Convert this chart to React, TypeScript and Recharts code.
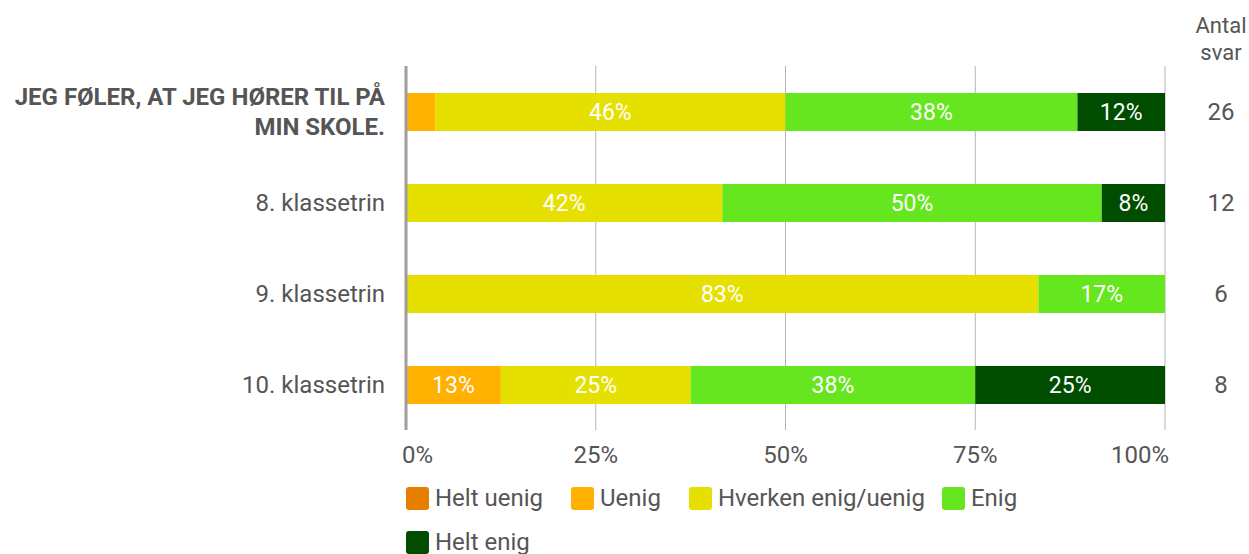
import { BarChart, Bar, XAxis, YAxis, CartesianGrid, Legend, LabelList } from 'recharts'

const categories = [
  'JEG FØLER, AT JEG HØRER TIL PÅ MIN SKOLE.',
  '8. klassetrin',
  '9. klassetrin',
  '10. klassetrin',
]
const headingLines = ['JEG FØLER, AT JEG HØRER TIL PÅ', 'MIN SKOLE.']
const heltUenig = [0, 0, 0, 0]
const uenig = [3.85, 0, 0, 12.5]
const hverken = [46.15, 41.67, 83.33, 25]
const enig = [38.46, 50, 16.67, 37.5]
const heltEnig = [11.54, 8.33, 0, 25]
const antalSvar = [26, 12, 6, 8]
const xTicks = [0, 25, 50, 75, 100]

const series = [
  { key: 'heltUenig', name: 'Helt uenig', color: '#e67e00', gap: 28 },
  { key: 'uenig', name: 'Uenig', color: '#ffb000', gap: 28 },
  { key: 'hverken', name: 'Hverken enig/uenig', color: '#e6e000', gap: 17 },
  { key: 'enig', name: 'Enig', color: '#66e61e', gap: 28 },
  { key: 'heltEnig', name: 'Helt enig', color: '#004d00', gap: 28 },
]

const data = categories.map((name, i) => ({
  name,
  heltUenig: heltUenig[i],
  uenig: uenig[i],
  hverken: hverken[i],
  enig: enig[i],
  heltEnig: heltEnig[i],
  antal: antalSvar[i],
}))

const FONT = 'Roboto, sans-serif'
const TEXT = '#555555'

function CategoryTick({ x, y, payload, index }: any) {
  if (index === 0) {
    return (
      <text x={x - 13} y={y} textAnchor="end" fill={TEXT} fontFamily={FONT} fontSize={24} fontWeight={700}>
        {headingLines.map((line, i) => (
          <tspan key={line} x={x - 13} dy={i === 0 ? -7 : 30}>
            {line}
          </tspan>
        ))}
      </text>
    )
  }
  return (
    <text x={x - 13} y={y} dy={8} textAnchor="end" fill={TEXT} fontFamily={FONT} fontSize={24}>
      {payload.value}
    </text>
  )
}

function CountTick({ x, y, index }: any) {
  return (
    <text x={x + 48} y={y} dy={8} textAnchor="middle" fill={TEXT} fontFamily={FONT} fontSize={24}>
      {antalSvar[index]}
    </text>
  )
}

function PercentTick({ x, y, payload, index }: any) {
  const anchor = index === 0 ? 'start' : index === xTicks.length - 1 ? 'end' : 'middle'
  const dx = index === 0 ? -4 : index === xTicks.length - 1 ? 4 : 0
  return (
    <text x={x + dx} y={y} dy={25} textAnchor={anchor} fill={TEXT} fontFamily={FONT} fontSize={24}>
      {payload.value}%
    </text>
  )
}

function BarLabel({ x, y, width, height, value }: any) {
  if (!value || value < 5) return null
  return (
    <text
      x={x + width / 2}
      y={y + height / 2}
      dy={8}
      textAnchor="middle"
      fill="#ffffff"
      fontFamily={FONT}
      fontSize={23}
    >
      {Math.round(value)}%
    </text>
  )
}

function LegendContent() {
  return (
    <div style={{ display: 'flex', flexWrap: 'wrap', fontFamily: FONT, fontSize: 24, color: TEXT }}>
      {series.map((s) => (
        <div key={s.key} style={{ display: 'flex', alignItems: 'center', height: 44, marginRight: s.gap }}>
          <span
            style={{ width: 23, height: 23, borderRadius: 3, background: s.color, marginRight: 6, display: 'inline-block' }}
          />
          <span>{s.name}</span>
        </div>
      ))}
    </div>
  )
}

function HeaderLabel({ viewBox }: any) {
  const cx = viewBox.x + 56
  return (
    <text textAnchor="middle" fill={TEXT} fontFamily={FONT} fontSize={22}>
      <tspan x={cx} y={33}>Antal</tspan>
      <tspan x={cx} y={60}>svar</tspan>
    </text>
  )
}

export default function App() {
  return (
    <div style={{ position: 'absolute', left: 0, top: 0, background: '#fff' }}>
      <BarChart
        width={1249}
        height={554}
        data={data}
        layout="vertical"
        margin={{ top: 66, right: 0, left: 0, bottom: 94 }}
        barCategoryGap={0}
      >
        <CartesianGrid horizontal={false} stroke="#b5b5b5" />
        <XAxis
          type="number"
          domain={[0, 100]}
          ticks={xTicks}
          tick={<PercentTick />}
          axisLine={false}
          tickLine={false}
          height={30}
          interval={0}
        />
        <YAxis
          dataKey="name"
          type="category"
          width={406}
          tick={<CategoryTick />}
          axisLine={{ stroke: '#9e9e9e', strokeWidth: 3 }}
          tickLine={false}
          interval={0}
        />
        <YAxis
          yAxisId="right"
          orientation="right"
          dataKey="name"
          type="category"
          width={84}
          tick={<CountTick />}
          axisLine={false}
          tickLine={false}
          interval={0}
          label={<HeaderLabel />}
        />
        <Legend
          layout="horizontal"
          verticalAlign="middle"
          align="center"
          wrapperStyle={{ top: 476, left: 406, width: 700 }}
          content={<LegendContent />}
        />
        {series.map((s) => (
          <Bar key={s.key} dataKey={s.key} name={s.name} stackId="a" fill={s.color} barSize={38} isAnimationActive={false}>
            <LabelList dataKey={s.key} content={<BarLabel />} />
          </Bar>
        ))}
      </BarChart>
    </div>
  )
}
